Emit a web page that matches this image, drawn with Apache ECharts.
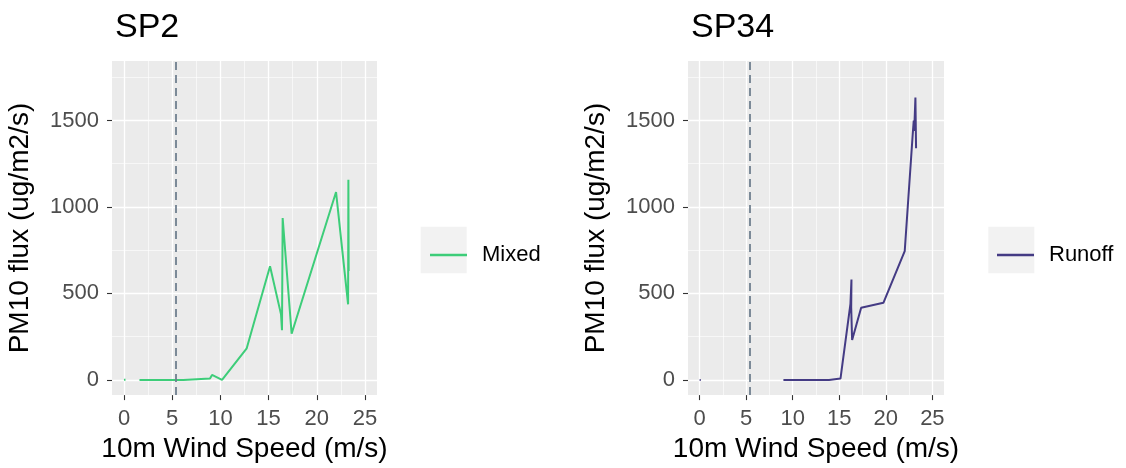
<!DOCTYPE html>
<html>
<head>
<meta charset="utf-8">
<script src="https://cdn.jsdelivr.net/npm/echarts@6/dist/echarts.min.js"></script>
<style>
  html, body { margin: 0; padding: 0; background: #fff; }
  #main { width: 1126px; height: 468px; }
</style>
</head>
<body>
<div id="main"></div>
<script>
// PM10 flux vs 10m wind speed
const panelTitles = ['SP2', 'SP34'];
const seriesNames = ['Mixed', 'Runoff'];
const seriesColors = ['#3DCD79', '#443B84'];
const windThreshold = 5.4; // dashed reference line

// '-' breaks the line (isolated reading at 0 m/s)
const mixedSpeed = [0, 0.15, '-', 1.6, 6.15, 8.92, 9.13, 10.17, 12.73, 15.15, 16.29, 16.39, 16.46, 17.39, 22.0, 23.25, 23.28, 23.31];
const mixedFlux  = [0, 2, '-', 0, 0, 8, 29, 0, 183, 657, 379, 287, 936, 267, 1086, 437, 1157, 629];

const runoffSpeed = [0, 0.12, '-', 9.0, 13.9, 15.13, 16.2, 16.31, 16.28, 16.38, 17.35, 19.74, 22.03, 22.89, 23.0, 23.05, 23.18, 23.25];
const runoffFlux  = [0, 0, '-', 0, 0, 8, 440, 581, 420, 231, 417, 446, 744, 1420, 1500, 1440, 1632, 1340];

const xTicks = [0, 5, 10, 15, 20, 25];
const xMinor = [2.5, 7.5, 12.5, 17.5, 22.5];
const yTicks = [0, 500, 1000, 1500];
const yMinor = [250, 750, 1250, 1750];

const xRange = [-1.25, 26.25];
const yRange = [-87.8, 1843.8];

const font = 'Liberation Sans, Arial, sans-serif';
const grids = [
  { left: 112, top: 61, width: 265, height: 335 },
  { left: 688, top: 61, width: 256, height: 335 }
];

function toPairs(xs, ys) {
  return xs.map((x, i) => [x, ys[i]]);
}
const plain = v => String(v);

function mainX(g) {
  return {
    type: 'value', gridIndex: g, min: xRange[0], max: xRange[1],
    name: '10m Wind Speed (m/s)', nameLocation: 'middle', nameGap: 37,
    nameTextStyle: { fontFamily: font, fontSize: 28, color: '#000' },
    axisLine: { show: false, onZero: false },
    axisTick: { show: true, length: 5, customValues: xTicks, lineStyle: { color: '#333', width: 1.1 } },
    axisLabel: { customValues: xTicks, formatter: plain, margin: 13, fontFamily: font, fontSize: 22, color: '#4D4D4D' },
    splitLine: { show: true, lineStyle: { color: '#fff', width: 1.3 } }
  };
}
function minorX(g) {
  return {
    type: 'value', gridIndex: g, min: xRange[0], max: xRange[1], position: 'top',
    axisLine: { show: false, onZero: false },
    axisTick: { show: false, customValues: xMinor },
    axisLabel: { show: false, customValues: xMinor },
    splitLine: { show: true, lineStyle: { color: '#fff', width: 0.6 } }
  };
}
function mainY(g) {
  return {
    type: 'value', gridIndex: g, min: yRange[0], max: yRange[1],
    name: 'PM10 flux (ug/m2/s)', nameLocation: 'middle', nameGap: 78,
    nameTextStyle: { fontFamily: font, fontSize: 28, color: '#000' },
    axisLine: { show: false, onZero: false },
    axisTick: { show: true, length: 5, customValues: yTicks, lineStyle: { color: '#333', width: 1.1 } },
    axisLabel: { customValues: yTicks, formatter: plain, margin: 13, fontFamily: font, fontSize: 22, color: '#4D4D4D' },
    splitLine: { show: true, lineStyle: { color: '#fff', width: 1.3 } }
  };
}
function minorY(g) {
  return {
    type: 'value', gridIndex: g, min: yRange[0], max: yRange[1], position: 'right',
    axisLine: { show: false, onZero: false },
    axisTick: { show: false, customValues: yMinor },
    axisLabel: { show: false, customValues: yMinor },
    splitLine: { show: true, lineStyle: { color: '#fff', width: 0.6 } }
  };
}

function lineSeries(i, data) {
  return {
    name: seriesNames[i],
    type: 'line',
    xAxisIndex: i * 2,
    yAxisIndex: i * 2,
    data: data,
    showSymbol: false,
    connectNulls: false,
    color: seriesColors[i],
    lineStyle: { width: 2, color: seriesColors[i] },
    animation: false,
    markLine: {
      silent: true,
      symbol: ['none', 'none'],
      label: { show: false },
      lineStyle: { type: [8, 5], color: '#708090', width: 1.8 },
      data: [{ xAxis: windThreshold }]
    }
  };
}

const chart = echarts.init(document.getElementById('main'), null, { renderer: 'canvas' });
chart.setOption({
  animation: false,
  backgroundColor: '#fff',
  textStyle: { fontFamily: font },
  title: [
    { text: panelTitles[0], left: 110, top: 6, textStyle: { fontFamily: font, fontSize: 34, fontWeight: 'normal', color: '#000' } },
    { text: panelTitles[1], left: 686, top: 6, textStyle: { fontFamily: font, fontSize: 34, fontWeight: 'normal', color: '#000' } }
  ],
  graphic: [
    { type: 'rect', shape: { x: 420.7, y: 226.7, width: 46, height: 46.6 }, style: { fill: '#F2F2F2' }, z: 0 },
    { type: 'rect', shape: { x: 988.3, y: 226.7, width: 46, height: 46.6 }, style: { fill: '#F2F2F2' }, z: 0 }
  ],
  legend: [
    {
      data: [seriesNames[0]], left: 425, top: 239, icon: 'rect', itemWidth: 37, itemHeight: 2.5,
      textStyle: { fontFamily: font, fontSize: 22, color: '#000', padding: [0, 0, 0, 10] }
    },
    {
      data: [seriesNames[1]], left: 992, top: 239, icon: 'rect', itemWidth: 37, itemHeight: 2.5,
      textStyle: { fontFamily: font, fontSize: 22, color: '#000', padding: [0, 0, 0, 10] }
    }
  ],
  grid: grids.map(g => Object.assign({ show: true, backgroundColor: '#EBEBEB', borderWidth: 0 }, g)),
  xAxis: [mainX(0), minorX(0), mainX(1), minorX(1)],
  yAxis: [mainY(0), minorY(0), mainY(1), minorY(1)],
  series: [
    lineSeries(0, toPairs(mixedSpeed, mixedFlux)),
    lineSeries(1, toPairs(runoffSpeed, runoffFlux))
  ]
});
</script>
</body>
</html>
